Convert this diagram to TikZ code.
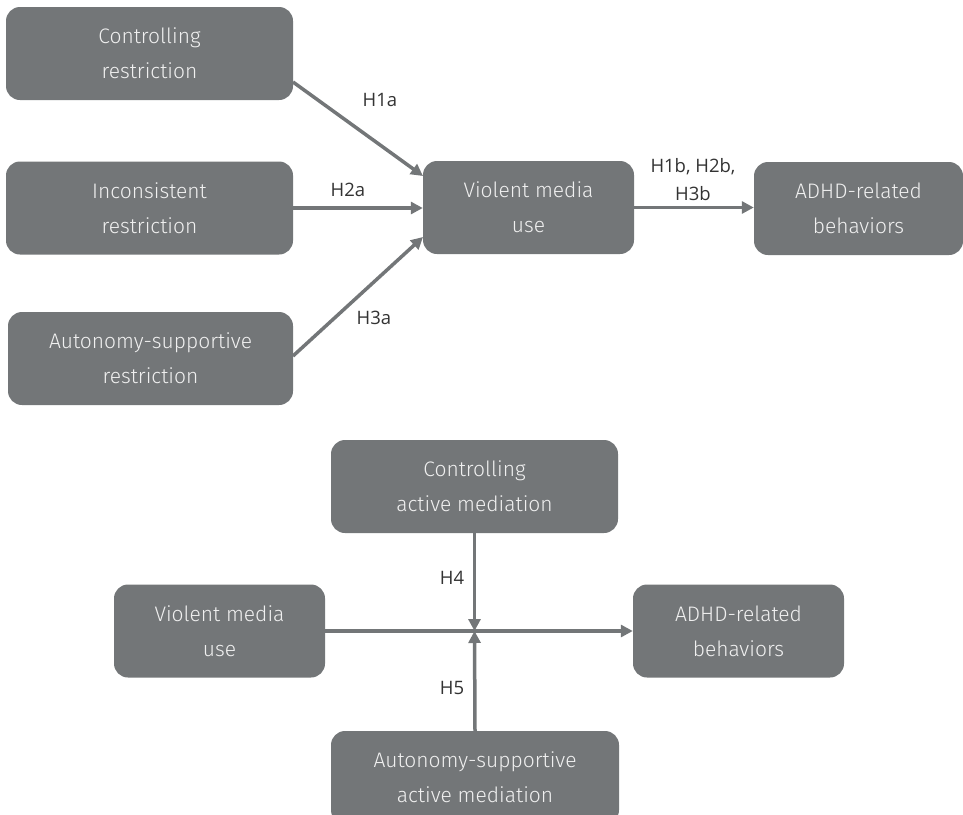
\documentclass[tikz,border=0pt]{standalone}
\usepackage{fontspec}
\setmainfont{Open Sans}
\newfontfamily\boxfont{Fira Sans}[UprightFont=* Light]
\usepackage{xcolor}
\usetikzlibrary{arrows.meta, positioning}
\definecolor{boxgray}{HTML}{737678}
\definecolor{labgray}{HTML}{333333}

\begin{document}
\begin{tikzpicture}[
  x=1pt, y=-1pt,
  box/.style={draw=none, rounded corners=14pt, fill=boxgray, minimum height=93pt, minimum width=287pt, align=center, font=\boxfont\fontsize{21}{35}\selectfont, text=white!94!black},
  arr/.style={-{Triangle[length=12pt, width=12pt]}, line width=3.5pt, boxgray},
  lab/.style={font=\fontsize{18.5}{28}\selectfont, text=labgray, align=center}
]
  \useasboundingbox (0,0) rectangle (963,814);
  % upper model
  \node[box] (ctrl) at (149.5,53.5) {Controlling\\restriction};
  \node[box] (incon) at (149.5,208) {Inconsistent\\restriction};
  \node[box, minimum width=285pt] (auto) at (150.5,358.5) {Autonomy-supportive\\restriction};
  \node[box, minimum width=211pt] (vmu) at (528.5,207.5) {Violent media\\use};
  \node[box, minimum width=209pt] (adhd) at (858.5,208.5) {ADHD-related\\behaviors};

  \draw[arr] (293,82) -- (423,176);
  \draw[arr] (incon.east) -- (vmu.west |- incon.east);
  \draw[arr] (293,356) -- (423,237);
  \draw[arr] (vmu.east) -- (adhd.west |- vmu.east);

  \node[lab] (h1a) at (380,100) {H1a};
  \node[lab] (h2a) at (348,190) {H2a};
  \node[lab] (h3a) at (374,318) {H3a};
  \node[lab] (h1b) at (693,180) {H1b, H2b,\\H3b};

  % lower model
  \node[box] (ctrlam) at (474.5,486.5) {Controlling\\active mediation};
  \node[box, minimum width=211pt] (vmu2) at (219.5,631) {Violent media\\use};
  \node[box, minimum width=211pt] (adhd2) at (738.5,631) {ADHD-related\\behaviors};
  \node[box, minimum width=288pt] (autoam) at (475,777.5) {Autonomy-supportive\\active mediation};

  \coordinate (mod) at (ctrlam.south |- vmu2.east);
  \draw[arr] (vmu2.east) -- (adhd2.west);
  \draw[arr] (ctrlam.south) -- (mod);
  \draw[arr] (autoam.north) -- (mod);

  \node[lab] (h4) at (452,578) {H4};
  \node[lab] (h5) at (452,688) {H5};
\end{tikzpicture}
\end{document}
